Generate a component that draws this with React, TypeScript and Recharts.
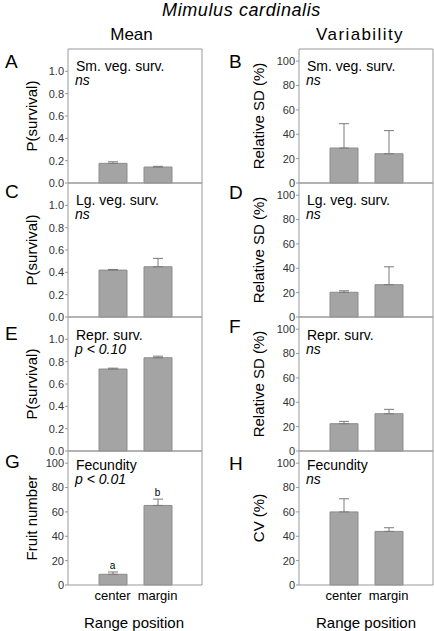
import React from "react";
import { BarChart, Bar, XAxis, YAxis, ErrorBar, ReferenceDot } from "recharts";

const positions = ["center", "margin"];

// means (left column) and variability (right column)
const smVegMean = [0.176, 0.143];
const smVegMeanErr = [0.014, 0.006];
const smVegSD = [28.7, 24.0];
const smVegSDErr = [20, 19];

const lgVegMean = [0.42, 0.45];
const lgVegMeanErr = [0.006, 0.075];
const lgVegSD = [20.3, 26.5];
const lgVegSDErr = [1.2, 14.7];

const reprMean = [0.734, 0.835];
const reprMeanErr = [0.008, 0.014];
const reprSD = [22.4, 30.6];
const reprSDErr = [1.9, 3.6];

const fecMean = [8.8, 65.3];
const fecMeanErr = [1.9, 5.2];
const fecCV = [60, 44];
const fecCVErr = [10.8, 3];
const fecGroups = ["a", "b"];

const probTicks = [0, 0.2, 0.4, 0.6, 0.8, 1.0];
const pctTicks = [0, 20, 40, 60, 80, 100];

const FONT = "'Liberation Sans', Arial, sans-serif";
const FRAME = "#999";

type PanelDef = {
  letter: string;
  col: number;
  row: number;
  vals: number[];
  errs: number[];
  max: number;
  ticks: number[];
  decimals: number;
  yLabel: string;
  title: string;
  sig: string;
  groups?: string[];
};

const panels: PanelDef[] = [
  { letter: "A", col: 0, row: 0, vals: smVegMean, errs: smVegMeanErr, max: 1.2, ticks: probTicks, decimals: 1, yLabel: "P(survival)", title: "Sm. veg. surv.", sig: "ns" },
  { letter: "B", col: 1, row: 0, vals: smVegSD, errs: smVegSDErr, max: 110, ticks: pctTicks, decimals: 0, yLabel: "Relative SD (%)", title: "Sm. veg. surv.", sig: "ns" },
  { letter: "C", col: 0, row: 1, vals: lgVegMean, errs: lgVegMeanErr, max: 1.2, ticks: probTicks, decimals: 1, yLabel: "P(survival)", title: "Lg. veg. surv.", sig: "ns" },
  { letter: "D", col: 1, row: 1, vals: lgVegSD, errs: lgVegSDErr, max: 110, ticks: pctTicks, decimals: 0, yLabel: "Relative SD (%)", title: "Lg. veg. surv.", sig: "ns" },
  { letter: "E", col: 0, row: 2, vals: reprMean, errs: reprMeanErr, max: 1.2, ticks: probTicks, decimals: 1, yLabel: "P(survival)", title: "Repr. surv.", sig: "p < 0.10" },
  { letter: "F", col: 1, row: 2, vals: reprSD, errs: reprSDErr, max: 110, ticks: pctTicks, decimals: 0, yLabel: "Relative SD (%)", title: "Repr. surv.", sig: "ns" },
  { letter: "G", col: 0, row: 3, vals: fecMean, errs: fecMeanErr, max: 110, ticks: pctTicks, decimals: 0, yLabel: "Fruit number", title: "Fecundity", sig: "p < 0.01", groups: fecGroups },
  { letter: "H", col: 1, row: 3, vals: fecCV, errs: fecCVErr, max: 110, ticks: pctTicks, decimals: 0, yLabel: "CV (%)", title: "Fecundity", sig: "ns" },
];

const PANEL_TOP = 49;
const PANEL_H = 134;
const rowTextTop = [11.5, 12, 12.5, 8.5];
const letterTop = [[55, 55], [185, 186], [327, 320], [455, 457]];

function Txt(props: { x: number; y: number; size: number; italic?: boolean; rotate?: boolean; spacing?: number; children: React.ReactNode }) {
  const { x, y, size, italic, rotate, spacing, children } = props;
  return (
    <div
      style={{
        position: "absolute",
        left: x,
        top: y,
        fontSize: size,
        fontStyle: italic ? "italic" : "normal",
        lineHeight: 1,
        whiteSpace: "nowrap",
        letterSpacing: spacing,
        transform: rotate ? "translate(-50%, -50%) rotate(-90deg)" : "translate(-50%, -50%)",
      }}
    >
      {children}
    </div>
  );
}

// left-aligned text placed by its cap top
function Note(props: { x: number; capTop: number; size: number; italic?: boolean; children: React.ReactNode }) {
  const { x, capTop, size, italic, children } = props;
  const lh = Math.round(size * 0.85);
  const baseOff = (lh - 1.117 * size) / 2 + 0.905 * size;
  return (
    <div
      style={{
        position: "absolute",
        left: x,
        top: capTop + 0.716 * size - baseOff,
        fontSize: size,
        lineHeight: lh + "px",
        height: lh,
        whiteSpace: "nowrap",
        fontStyle: italic ? "italic" : "normal",
      }}
    >
      {children}
    </div>
  );
}

function Panel({ p }: { p: PanelDef }) {
  const data = positions.map((pos, i) => ({ pos, v: p.vals[i], e: [0, p.errs[i]] }));
  const bottom = p.row === 3;
  const left = p.col === 0 ? 0 : 217;
  const width = p.col === 0 ? 210 : 217;
  const yW = p.col === 0 ? 68 : 82;
  const top = PANEL_TOP + PANEL_H * p.row - 8;
  const bottomSpace = bottom ? 24 : 9;
  const height = 8 + PANEL_H + bottomSpace;
  const fmt = (v: number) => v.toFixed(p.decimals);

  return (
    <div style={{ position: "absolute", left, top }}>
      <BarChart
        width={width}
        height={height}
        data={data}
        margin={{ top: 7, right: width - yW - PANEL_H - 1, left: 0, bottom: bottom ? 0 : 8 }}
      >
        <XAxis
          dataKey="pos"
          padding={{ left: 22, right: 22 }}
          height={bottom ? 24 : 1}
          tick={bottom ? { fontSize: 13, fill: "#000" } : false}
          tickLine={false}
          tickSize={4}
          interval={0}
          axisLine={{ stroke: FRAME }}
        />
        <XAxis xAxisId="top" orientation="top" dataKey="pos" height={1} tick={false} tickLine={false} axisLine={{ stroke: FRAME }} />
        <YAxis
          domain={[0, p.max]}
          ticks={p.ticks}
          interval={0}
          tickFormatter={fmt}
          width={yW}
          tickSize={3}
          tickMargin={1}
          tick={{ fontSize: 11, fill: "#333" }}
          axisLine={{ stroke: FRAME }}
          tickLine={{ stroke: FRAME }}
        />
        <YAxis yAxisId="r" orientation="right" domain={[0, p.max]} width={1} tick={false} tickLine={false} axisLine={{ stroke: FRAME }} />
        <Bar dataKey="v" barSize={28} fill="#a4a4a4" stroke="#8c8c8c" strokeWidth={1} isAnimationActive={false}>
          <ErrorBar dataKey="e" direction="y" width={5} stroke="#7a7a7a" strokeWidth={1} />
        </Bar>
        {p.groups &&
          p.groups.map((g, i) => (
            <ReferenceDot
              key={g}
              x={positions[i]}
              y={p.vals[i] + p.errs[i]}
              r={0}
              stroke="none"
              label={{ value: g, position: "top", offset: 3, fontSize: 10, fill: "#000" }}
            />
          ))}
      </BarChart>
    </div>
  );
}

export default function App() {
  return (
    <div style={{ position: "absolute", left: 0, top: 0, width: 434, height: 631, fontFamily: FONT, color: "#000", background: "#fff" }}>
      {panels.map((p) => (
        <Panel key={p.letter} p={p} />
      ))}

      <Txt x={241.5} y={10} size={18} italic spacing={0.6}>Mimulus cardinalis</Txt>
      <Txt x={131.5} y={34} size={17}>Mean</Txt>
      <Txt x={360} y={34} size={17} spacing={1.4}>Variability</Txt>

      {panels.map((p) => {
        const pTop = PANEL_TOP + PANEL_H * p.row;
        const fx = p.col === 0 ? 68 : 299;
        const capTop = pTop + rowTextTop[p.row];
        return (
          <React.Fragment key={"t" + p.letter}>
            <Note x={p.col === 0 ? 5 : 229} capTop={letterTop[p.row][p.col]} size={19}>{p.letter}</Note>
            <Txt x={p.col === 0 ? 31 : 258} y={pTop + PANEL_H / 2} size={15} rotate>{p.yLabel}</Txt>
            <Note x={fx + 8} capTop={capTop} size={14}>{p.title}</Note>
            <Note x={fx + 7} capTop={capTop + 14} size={14} italic>{p.sig}</Note>
          </React.Fragment>
        );
      })}

      <Txt x={134} y={622} size={15}>Range position</Txt>
      <Txt x={366} y={622} size={15}>Range position</Txt>
    </div>
  );
}
